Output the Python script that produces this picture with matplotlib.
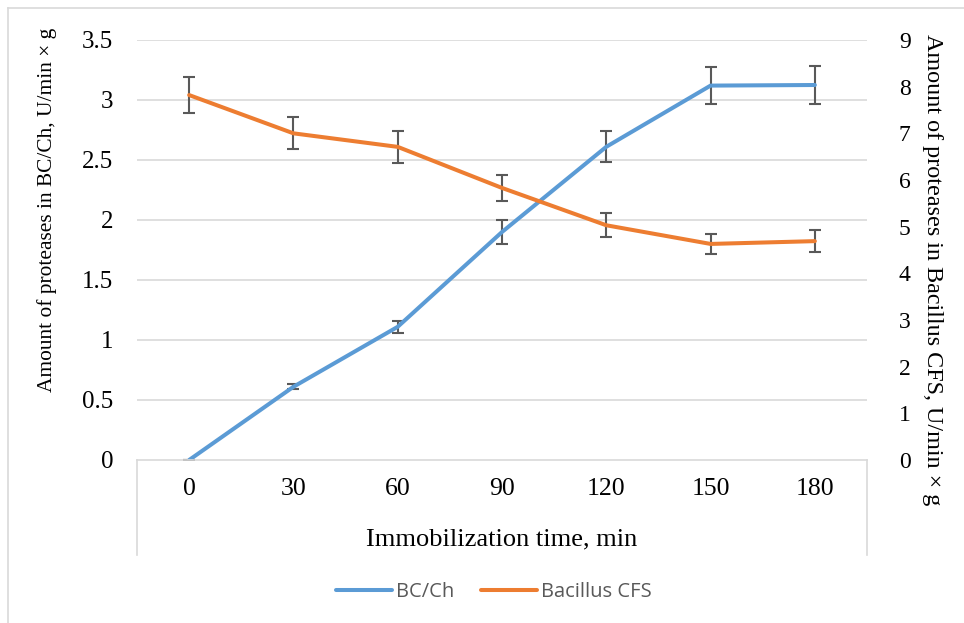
import numpy as np
import matplotlib.pyplot as plt
from matplotlib.lines import Line2D

# Veriler
times = ["0", "30", "60", "90", "120", "150", "180"]
bc_ch = [0.0, 0.61, 1.11, 1.90, 2.61, 3.12, 3.125]
bc_ch_err = [0.0, 0.02, 0.05, 0.10, 0.13, 0.155, 0.155]
bacillus = [7.82, 7.00, 6.71, 5.83, 5.03, 4.63, 4.69]
bacillus_err = [0.39, 0.34, 0.34, 0.28, 0.26, 0.22, 0.24]

blue = '#5b9bd5'
orange = '#ed7d31'
grid_c = '#d9d9d9'
err_c = '#595959'
serif = 'Liberation Serif'

fig = plt.figure(figsize=(9.64, 6.23), dpi=100)
ax = fig.add_axes([137/964, 163/623, 730/964, 420/623])
ax2 = ax.twinx()

x = np.arange(len(times))

ax.errorbar(x, bc_ch, yerr=bc_ch_err, color=blue, lw=2.9, ecolor=err_c,
            elinewidth=1.5, capsize=4.3, capthick=1.5, solid_capstyle='round', zorder=3)
ax2.errorbar(x, bacillus, yerr=bacillus_err, color=orange, lw=2.9, ecolor=err_c,
             elinewidth=1.5, capsize=4.3, capthick=1.5, solid_capstyle='round', zorder=3)

ax.set_xlim(-0.5, len(times) - 0.5)
ax.set_ylim(0, 3.5)
ax2.set_ylim(0, 9)
ax.set_yticks(np.arange(0, 3.51, 0.5))
ax.set_yticklabels(['0', '0.5', '1', '1.5', '2', '2.5', '3', '3.5'])
ax2.set_yticks(range(10))
ax.set_xticks(x)
ax.set_xticklabels(times)

# Izgara çizgileri
for v in np.arange(0.5, 3.51, 0.5):
    ax.axhline(v, color=grid_c, lw=1.2, zorder=0)

for a in (ax, ax2):
    for s in a.spines.values():
        s.set_visible(False)
    a.tick_params(length=0, labelsize=18, labelfontfamily=serif)
ax2.tick_params(labelsize=17)
ax.tick_params(axis='y', pad=17)
ax2.tick_params(axis='y', pad=23)
ax.tick_params(axis='x', labelsize=18.5, pad=13)

ax.set_ylabel("Amount of proteases in BC/Ch, U/min × g", fontsize=15.4, family=serif)
ax.yaxis.set_label_coords(-80/730, 250/420)
ax2.set_ylabel("Amount of proteases in Bacillus CFS, U/min × g", fontsize=17.4, family=serif,
               rotation=270, va='bottom')
ax2.yaxis.set_label_coords(1 + 55/730, 190/420)
ax.set_xlabel("Immobilization time, min", fontsize=19, family=serif)
ax.xaxis.set_label_coords(0.5, -68/420)

# Alt eksen kutusu
fig.add_artist(Line2D([137/964, 867/964], [163/623, 163/623], color=grid_c, lw=1.2))
fig.add_artist(Line2D([137/964, 137/964], [68/623, 163/623], color=grid_c, lw=1.2))
fig.add_artist(Line2D([867/964, 867/964], [68/623, 163/623], color=grid_c, lw=1.2))
# Grafik çerçevesi
fig.add_artist(Line2D([8/964, 8/964], [0, 615/623], color=grid_c, lw=1.2))
fig.add_artist(Line2D([8/964, 1], [615/623, 615/623], color=grid_c, lw=1.2))

handles = [Line2D([], [], color=blue, lw=2.9, solid_capstyle='round'),
           Line2D([], [], color=orange, lw=2.9, solid_capstyle='round')]
leg = fig.legend(handles, ["BC/Ch", "Bacillus CFS"], loc='center', bbox_to_anchor=(494/964, 31/623),
                 ncol=2, frameon=False, prop={'family': 'Open Sans', 'size': 14.5},
                 handlelength=2.8, handletextpad=0.2, columnspacing=1.3)
for t in leg.get_texts():
    t.set_color('#595959')

fig.savefig("out.png", dpi=100)
